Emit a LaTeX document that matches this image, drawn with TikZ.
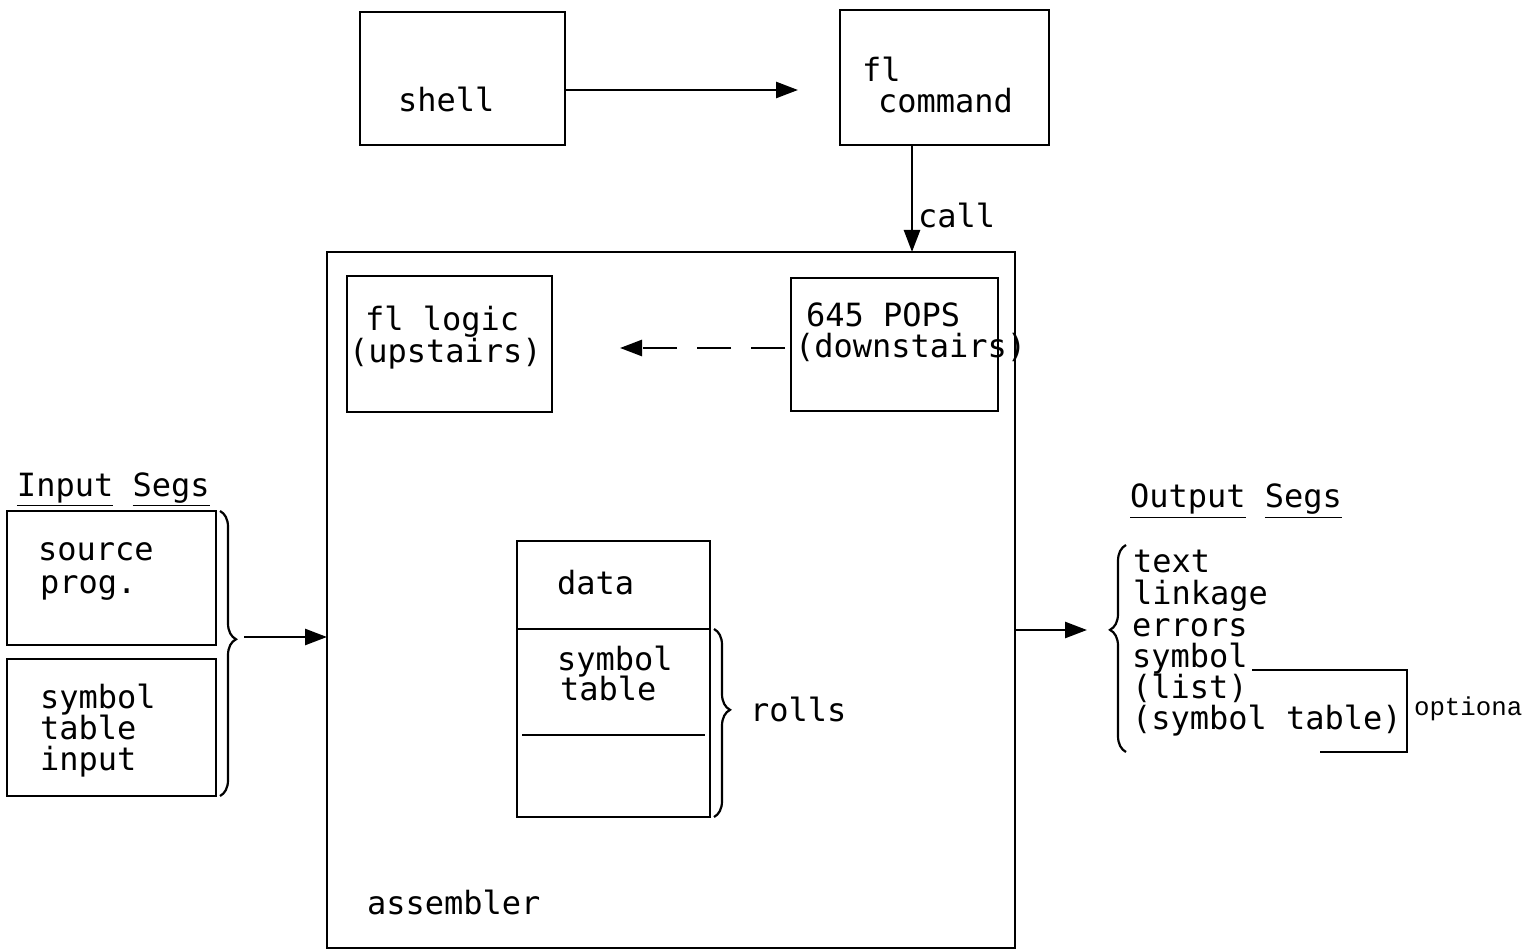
\documentclass[tikz,border=0pt]{standalone}
\usepackage{fontspec}
\usetikzlibrary{arrows.meta,calc,decorations.pathreplacing}
\newfontfamily\typew{DejaVu Sans Mono}
\newfontfamily\courw{Liberation Mono}
\tikzset{
  box/.style={draw, line width=1.3pt, inner sep=0pt, outer sep=0pt, anchor=north west},
  lbl/.style={inner sep=0pt, outer sep=0pt, anchor=base west, font=\typew\fontsize{16}{16}\selectfont},
  note/.style={inner sep=0pt, outer sep=0pt, anchor=base west, font=\courw\fontsize{12.9}{13}\selectfont},
  arr/.style={line width=1.3pt, -{Triangle[length=11pt,width=8pt]}},
  brc/.style={line width=1.1pt, decorate, decoration={brace, amplitude=8pt, raise=0pt}},
  plainline/.style={line width=1.2pt}
}
\begin{document}
\begin{tikzpicture}[x=0.5pt,y=-0.5pt]
\useasboundingbox (0,0) rectangle (1530,951);

% top row: shell and command boxes
\node[box, minimum width=102.5pt, minimum height=66.5pt] (shell) at (360,12) {};
\node[box, minimum width=104.5pt, minimum height=67.5pt] (fcmd) at (840,10) {};
\node[lbl] (tshell) at (398,112) {shell};
\node[lbl] (tfl) at (862,82) {fl};
\node[lbl] (tcmd) at (878,113) {command};

% the assembler and its inner boxes
\node[box, minimum width=344pt, minimum height=348pt] (asm) at (327,252) {};
\node[box, minimum width=102.5pt, minimum height=68pt] (logic) at (347,276) {};
\node[box, minimum width=103.5pt, minimum height=66.5pt] (pops) at (791,278) {};
\node[lbl] (tlogic1) at (365,331) {fl logic};
\node[lbl] (tlogic2) at (349,363) {(upstairs)};
\node[lbl] (tpops1) at (806,327) {645 POPS};
\node[lbl] (tpops2) at (795,358) {(downstairs)};
\node[lbl] (tasm) at (367,914) {assembler};

% data / symbol table stack
\node[box, minimum width=96.5pt, minimum height=138pt] (stack) at (517,541) {};
\coordinate (divA) at (517,629);
\coordinate (divB) at (522,735);
\draw[plainline] (divA) -- (divA -| stack.east);
\draw[plainline] (divB) -- ($(divB -| stack.east)+(-5,0)$);
\node[lbl] (tdata) at (557,594) {data};
\node[lbl] (tsym1) at (557,670) {symbol};
\node[lbl] (tsym2) at (560,700) {table};
\draw[brc, decoration={aspect=0.43}] ($(divA -| stack.east)+(4,0)$) -- ($(stack.south east)+(4,0)$);
\node[lbl] (trolls) at (750,721) {rolls};

% input segments
\node[lbl] (tin) at (17,496) {\underline{Input} \underline{Segs}};
\node[box, minimum width=104.5pt, minimum height=67pt] (src) at (7,511) {};
\node[box, minimum width=104.5pt, minimum height=68.5pt] (symin) at (7,659) {};
\node[lbl] (tsrc1) at (38,560) {source};
\node[lbl] (tsrc2) at (40,593) {prog.};
\node[lbl] (tsi1) at (40,708) {symbol};
\node[lbl] (tsi2) at (40,739) {table};
\node[lbl] (tsi3) at (40,770) {input};
\draw[brc, decoration={aspect=0.45}] ($(src.north east)+(4,0)$) -- ($(symin.south east)+(4,0)$);
\coordinate (inTip) at (244,637);

% output segments
\node[lbl] (tout) at (1130,508) {\underline{Output} \underline{Segs}};
\node[lbl] (o1) at (1133,572) {text};
\node[lbl] (o2) at (1133,604) {linkage};
\node[lbl] (o3) at (1132,636) {errors};
\node[lbl] (o4) at (1132,667) {symbol};
\node[lbl] (o5) at (1132,698) {(list)};
\node[lbl] (o6) at (1132,729) {(symbol table)};
\coordinate (obTop) at (1126,545);
\coordinate (obBot) at (1126,752);
\draw[brc, decoration={aspect=0.59}] (obBot) -- (obTop);
\coordinate (optA) at (1252,670);
\coordinate (optB) at (1407,670);
\coordinate (optC) at (1407,752);
\coordinate (optD) at (1320,752);
\draw[plainline] (optA) -- (optB) -- (optC) -- (optD);
\node[note] (topt) at (1414,715) {optiona};

% connectors
\coordinate (shellTip) at (798,90);
\draw[arr] ($(shell.east)+(0,11.5)$) -- (shellTip);
\coordinate (callTop) at ($(fcmd.south west)+(72,0)$);
\draw[arr] (callTop) -- (callTop |- asm.north);
\node[lbl] (tcall) at (918,228) {call};
\coordinate (dashTip) at (620,348);
\draw[arr, dash pattern=on 17pt off 10pt] ($(pops.west |- dashTip)+(-6,0)$) -- (dashTip);
\draw[arr] (inTip) -- (inTip -| asm.west);
\coordinate (outTip) at (1087,630);
\draw[arr] (asm.east |- outTip) -- (outTip);
\end{tikzpicture}
\end{document}
